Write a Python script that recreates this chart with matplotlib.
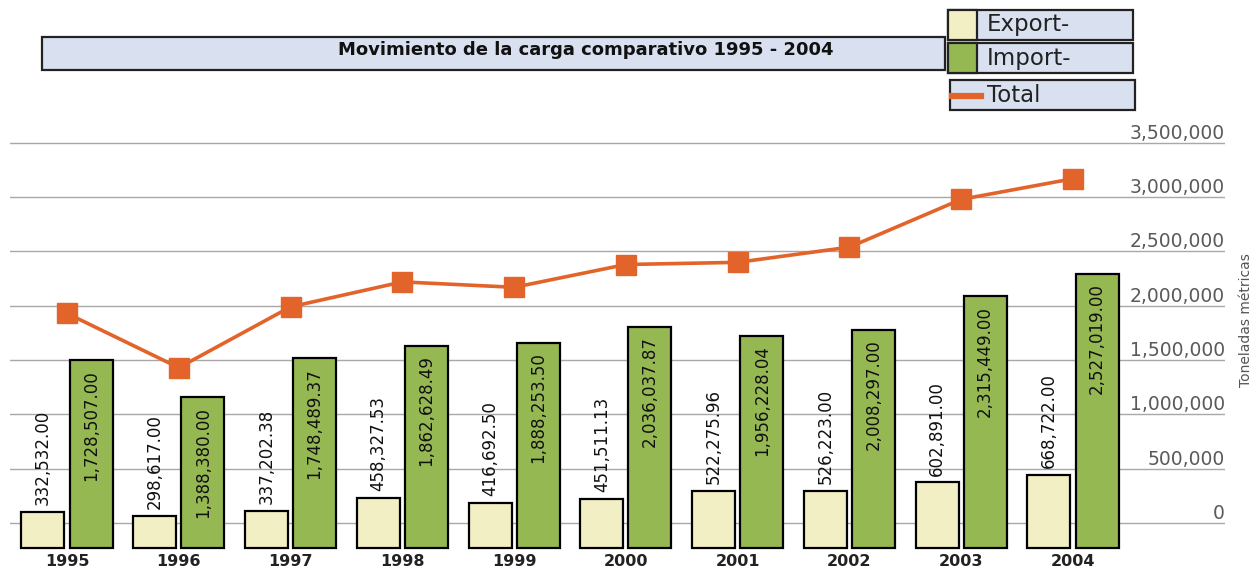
import matplotlib
matplotlib.use("Agg")
import matplotlib.pyplot as plt
from matplotlib.patches import Rectangle
from matplotlib.lines import Line2D
import numpy as np

# ---------------- data ----------------
years = ["1995", "1996", "1997", "1998", "1999", "2000", "2001", "2002", "2003", "2004"]
export_vals = [332532.00, 298617.00, 337202.38, 458327.53, 416692.50,
               451511.13, 522275.96, 526223.00, 602891.00, 668722.00]
import_vals = [1728507.00, 1388380.00, 1748489.37, 1862628.49, 1888253.50,
               2036037.87, 1956228.04, 2008297.00, 2315449.00, 2527019.00]
# total line
total_vals = [1930000, 1430000, 1990000, 2220000, 2170000,
              2380000, 2400000, 2540000, 2980000, 3170000]
y_ticks = [0, 500000, 1000000, 1500000, 2000000, 2500000, 3000000, 3500000]
y_tick_labels = ["0", "500,000", "1,000,000", "1,500,000", "2,000,000",
                 "2,500,000", "3,000,000", "3,500,000"]
title = "Movimiento de la carga comparativo 1995 - 2004"
legend_labels = ["Export-", "Import-", "Total"]
y_label = "Toneladas métricas"

# ---------------- style ----------------
W, H = 1257, 571
EXPORT_C = "#f2efc4"
IMPORT_C = "#96b853"
TOTAL_C = "#e3642b"
BOX_C = "#d9e1f1"
GRID_C = "#a8a8a8"

fig = plt.figure(figsize=(W / 100, H / 100), dpi=100)
fig.patch.set_facecolor("white")


def fx(px):
    return px / W


def fy(py):
    return 1 - py / H


# axes spanning pixel x 10..1225, y 138..550
ax = fig.add_axes([fx(10), fy(550), fx(1225) - fx(10), fy(138) - fy(550)])
ax.set_facecolor("none")

x = np.arange(len(years))
bw = 0.385
off = 0.215
base = -230000  # bars in the original start slightly below the zero line

ax.bar(x - off, export_vals, width=bw, bottom=base, color=EXPORT_C,
       edgecolor="black", linewidth=1.6, zorder=3)
ax.bar(x + off, import_vals, width=bw, bottom=base, color=IMPORT_C,
       edgecolor="black", linewidth=1.6, zorder=3)
ax.plot(x, total_vals, color=TOTAL_C, linewidth=2.6, marker="s",
        markersize=14, markerfacecolor=TOTAL_C, markeredgecolor=TOTAL_C, zorder=5)

for i in range(len(years)):
    ax.annotate(f"{export_vals[i]:,.2f}", (x[i] - off, export_vals[i] + base),
                xytext=(0, 5), textcoords="offset points", rotation=90,
                ha="center", va="bottom", fontsize=12, color="#111111", zorder=6)
    ax.annotate(f"{import_vals[i]:,.2f}", (x[i] + off, import_vals[i] + base),
                xytext=(0, -7), textcoords="offset points", rotation=90,
                ha="center", va="top", fontsize=12, color="#111111", zorder=6)

ax.set_xlim(-0.51, 10.36)
ax.set_ylim(-249000, 3545000)
ax.set_xticks(x)
ax.set_xticklabels(years, fontsize=11.5, fontweight="bold", color="#222222")
ax.tick_params(axis="x", length=0, pad=3)

ax.set_yticks(y_ticks)
ax.yaxis.tick_right()
ax.set_yticklabels(y_tick_labels, fontsize=13.5, color="#5a5a5a")
ax.tick_params(axis="y", length=0, pad=0)
for lab in ax.get_yticklabels():
    lab.set_horizontalalignment("right")
    lab.set_verticalalignment("bottom")
ax.grid(axis="y", color=GRID_C, linewidth=1.0, zorder=0)
for s in ax.spines.values():
    s.set_visible(False)

fig.text(fx(1246), fy(320), y_label, rotation=90, ha="center", va="center",
         fontsize=10, color="#555555")

# ---------------- title box ----------------
fig.add_artist(Rectangle((fx(42), fy(70)), fx(945) - fx(42), fy(37) - fy(70),
                         transform=fig.transFigure, facecolor=BOX_C,
                         edgecolor="#222222", linewidth=1.6))
fig.text(fx(586), fy(50), title, ha="center", va="center", fontsize=13,
         fontweight="bold", color="#111111")

# ---------------- legend boxes ----------------
boxes = [(948, 10, 40, EXPORT_C), (948, 43, 73, IMPORT_C)]
for (bx, top, bot, col), lab in zip(boxes, legend_labels[:2]):
    fig.add_artist(Rectangle((fx(bx), fy(bot)), fx(1133) - fx(bx), fy(top) - fy(bot),
                             transform=fig.transFigure, facecolor=BOX_C,
                             edgecolor="#222222", linewidth=1.6))
    fig.add_artist(Rectangle((fx(bx), fy(bot)), fx(977) - fx(bx), fy(top) - fy(bot),
                             transform=fig.transFigure, facecolor=col,
                             edgecolor="#222222", linewidth=1.6))
    fig.text(fx(987), fy((top + bot) / 2), lab, ha="left", va="center",
             fontsize=16.5, color="#222222")

fig.add_artist(Rectangle((fx(950), fy(110)), fx(1135) - fx(950), fy(80) - fy(110),
                         transform=fig.transFigure, facecolor=BOX_C,
                         edgecolor="#222222", linewidth=1.6))
fig.add_artist(Line2D([fx(952), fx(981)], [fy(96), fy(96)], transform=fig.transFigure,
                      color=TOTAL_C, linewidth=4.5))
fig.text(fx(987), fy(95), legend_labels[2], ha="left", va="center",
         fontsize=16.5, color="#222222")

fig.savefig("out.png", dpi=100, facecolor="white")
